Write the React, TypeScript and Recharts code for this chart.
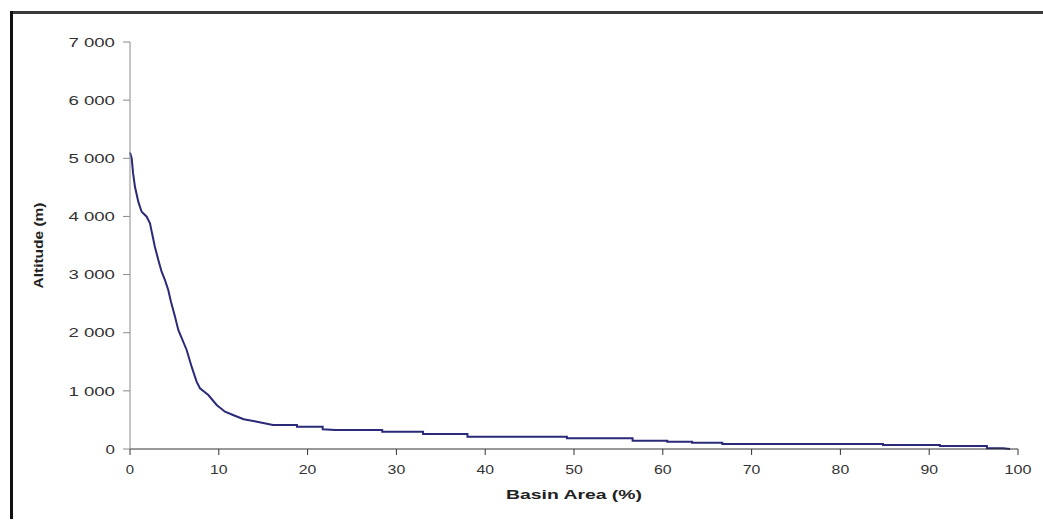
import React from "react";
import { LineChart, Line, XAxis, YAxis } from "recharts";

const basinArea: number[] = [
  0, 0.19, 0.35, 0.56, 0.94, 1.31, 1.88, 2.25, 2.44, 2.8, 3.19, 3.56, 3.94, 4.31, 4.6, 5.07, 5.44,
  6.38, 6.94, 7.5, 7.88, 8.82, 9.76, 10.7, 11.6, 12.8, 14.3, 16.1, 18.8, 18.8, 21.7, 21.7, 23.1,
  28.4, 28.4, 33, 33, 38, 38, 49.2, 49.2, 56.6, 56.6, 60.5, 60.5, 63.3, 63.3, 66.7, 66.7, 84.8,
  84.8, 91.2, 91.2, 96.5, 96.5, 98.3, 99.1,
];
const altitude: number[] = [
  5100, 5000, 4740, 4510, 4250, 4080, 3995, 3880, 3740, 3480, 3250, 3050, 2905, 2735, 2540, 2276,
  2047, 1703, 1416, 1158, 1044, 929, 757, 642, 585, 511, 470, 413, 413, 383, 383, 340, 327, 327,
  298, 298, 258, 258, 212, 212, 184, 184, 143, 143, 126, 126, 108, 108, 86, 86, 69, 69, 52, 52, 12,
  12, 0,
];
const xTicks: number[] = [0, 10, 20, 30, 40, 50, 60, 70, 80, 90, 100];
const yTicks: number[] = [0, 1000, 2000, 3000, 4000, 5000, 6000, 7000];
const xTitle = "Basin Area (%)";
const yTitle = "Altitude (m)";

const data = basinArea.map((x, i) => ({ x, y: altitude[i] }));

const FONT = "'Liberation Sans', Arial, sans-serif";

const fmt = (v: number) => {
  if (v < 1000) return String(v);
  const s = String(v);
  return s.slice(0, s.length - 3) + " " + s.slice(s.length - 3);
};

const XTick = (props: any) => {
  const { x, y, payload } = props;
  const s = String(payload.value);
  return (
    <text
      x={x}
      y={y + 13}
      textAnchor="middle"
      fill="#333333"
      fontSize={13}
      fontFamily={FONT}
      textLength={s.length * 9.3 - 1}
      lengthAdjust="spacingAndGlyphs"
    >
      {s}
    </text>
  );
};

const YTick = (props: any) => {
  const { x, y, payload } = props;
  const s = fmt(payload.value);
  const digits = s.replace(/ /g, "").length;
  const spaces = s.length - digits;
  return (
    <text
      x={x}
      y={y}
      dy="0.36em"
      textAnchor="end"
      fill="#333333"
      fontSize={13}
      fontFamily={FONT}
      textLength={digits * 10.4 + spaces * 6 - 1}
      lengthAdjust="spacingAndGlyphs"
    >
      {s}
    </text>
  );
};

const XTitle = (props: any) => {
  const vb = props.viewBox || {};
  const cx = (vb.x ?? 130) + (vb.width ?? 888) / 2;
  return (
    <text
      x={cx}
      y={499}
      textAnchor="middle"
      fill="#222222"
      fontSize={13}
      fontWeight="bold"
      fontFamily={FONT}
      textLength={136}
      lengthAdjust="spacingAndGlyphs"
    >
      {xTitle}
    </text>
  );
};

const YTitle = (props: any) => {
  const vb = props.viewBox || {};
  const cy = (vb.y ?? 42) + (vb.height ?? 407) / 2;
  const cx = 43;
  return (
    <text
      x={cx}
      y={cy}
      transform={`rotate(-90, ${cx}, ${cy})`}
      textAnchor="middle"
      fill="#222222"
      fontSize={12}
      fontWeight="bold"
      fontFamily={FONT}
      textLength={86}
      lengthAdjust="spacingAndGlyphs"
    >
      {yTitle}
    </text>
  );
};

export default function App() {
  return (
    <div
      style={{
        position: "absolute",
        left: 0,
        top: 0,
        width: 1043,
        height: 525,
        background: "#ffffff",
        fontFamily: FONT,
      }}
    >
      <div style={{ position: "absolute", left: 10, top: 11, width: 1033, height: 3, background: "#3a3a3a" }} />
      <div style={{ position: "absolute", left: 10, top: 11, width: 3, height: 508, background: "#111111" }} />
      <LineChart
        width={1043}
        height={525}
        data={data}
        margin={{ top: 42, right: 25, bottom: 46, left: 70 }}
      >
        <XAxis
          dataKey="x"
          type="number"
          domain={[0, 100]}
          ticks={xTicks}
          interval={0}
          height={30}
          tickSize={6}
          tickMargin={6}
          stroke="#333333"
          tick={<XTick />}
          label={<XTitle />}
        />
        <YAxis
          dataKey="y"
          type="number"
          domain={[0, 7000]}
          ticks={yTicks}
          interval={0}
          width={60}
          tickSize={7}
          tickMargin={8}
          stroke="#8a8a8a"
          tick={<YTick />}
          label={<YTitle />}
        />
        <Line
          type="linear"
          dataKey="y"
          stroke="#2a2a78"
          strokeWidth={2}
          dot={false}
          isAnimationActive={false}
        />
      </LineChart>
    </div>
  );
}
